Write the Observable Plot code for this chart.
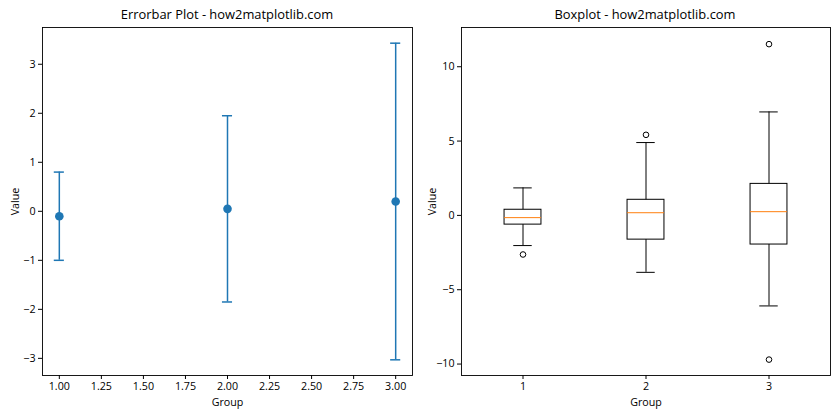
<!DOCTYPE html>
<html><head><meta charset="utf-8">
<script src="https://cdn.jsdelivr.net/npm/d3@7"></script>
<script src="https://cdn.jsdelivr.net/npm/@observablehq/plot@0.6"></script>
<style>
body{margin:0;background:#fff;font-family:"Open Sans",sans-serif;}
#wrap{position:relative;width:840px;height:420px;overflow:hidden;}
.panel{position:absolute;top:0;width:420px;height:420px;}
.title{position:absolute;top:7px;font-size:12.9px;line-height:15px;text-align:center;color:#000;white-space:nowrap;z-index:2;}
</style></head><body><div id="wrap"></div>
<script>
// ---- Errorbar data ----
const groups = [1, 2, 3];
const means = [-0.10, 0.05, 0.20];
const errors = [0.90, 1.90, 3.23];
const errXTicks = [1.00, 1.25, 1.50, 1.75, 2.00, 2.25, 2.50, 2.75, 3.00];
const errYTicks = [-3, -2, -1, 0, 1, 2, 3];

// ---- Boxplot data ----
const boxWhiskerLow = [-2.03, -3.83, -6.09];
const boxQ1 = [-0.62, -1.63, -1.96];
const boxMedian = [-0.15, 0.18, 0.25];
const boxQ3 = [0.38, 1.05, 2.12];
const boxWhiskerHigh = [1.85, 4.90, 6.96];
const outlierGroups = [1, 2, 3, 3];
const outlierValues = [-2.63, 5.42, 11.52, -9.70];
const boxXTicks = [1, 2, 3];
const boxYTicks = [-10, -5, 0, 5, 10];

const errData = groups.map((g, i) => ({g, m: means[i], e: errors[i]}));
const boxData = groups.map((g, i) => ({g, lo: boxWhiskerLow[i], q1: boxQ1[i], med: boxMedian[i], q3: boxQ3[i], hi: boxWhiskerHigh[i]}));
const outliers = outlierGroups.map((g, i) => ({g, v: outlierValues[i]}));

const blue = "#1f77b4";
const style = {fontFamily: "'Open Sans', sans-serif", fontSize: "10.7px", color: "#000", background: "transparent"};
const wrap = document.getElementById("wrap");

function panel(left, titleText, titleCenter, plot) {
  const p = document.createElement("div");
  p.className = "panel";
  p.style.left = left + "px";
  p.appendChild(plot);
  const t = document.createElement("div");
  t.className = "title";
  t.textContent = titleText;
  t.style.left = (titleCenter - 200) + "px";
  t.style.width = "400px";
  p.appendChild(t);
  wrap.appendChild(p);
}

// Left: errorbar plot
const capHalf = 0.03;
const left = Plot.plot({
  width: 420, height: 420,
  marginLeft: 42, marginRight: 8, marginTop: 27, marginBottom: 45,
  style,
  x: {domain: [0.9, 3.1]},
  y: {domain: [-3.35, 3.75]},
  marks: [
    Plot.frame({stroke: "#000", strokeWidth: 0.9}),
    Plot.axisX({ticks: errXTicks, tickFormat: d3.format(".2f"), tickSize: 4, tickPadding: 3, label: "Group", labelAnchor: "center", labelOffset: 30, labelArrow: "none"}),
    Plot.axisY({ticks: errYTicks, tickFormat: d3.format("d"), tickSize: 4, tickPadding: 3, label: "Value", labelAnchor: "center", labelOffset: 31, labelArrow: "none"}),
    Plot.ruleX(errData, {x: "g", y1: d => d.m - d.e, y2: d => d.m + d.e, stroke: blue, strokeWidth: 1.5}),
    Plot.ruleY(errData, {y: d => d.m - d.e, x1: d => d.g - capHalf, x2: d => d.g + capHalf, stroke: blue, strokeWidth: 1.5}),
    Plot.ruleY(errData, {y: d => d.m + d.e, x1: d => d.g - capHalf, x2: d => d.g + capHalf, stroke: blue, strokeWidth: 1.5}),
    Plot.dot(errData, {x: "g", y: "m", r: 4.3, fill: blue, stroke: "none"})
  ]
});
panel(0, "Errorbar Plot - how2matplotlib.com", 227, left);

// Right: boxplot
const boxHalf = 0.15, whiskHalf = 0.075;
const right = Plot.plot({
  width: 420, height: 420,
  marginLeft: 41, marginRight: 10, marginTop: 27, marginBottom: 45,
  style,
  x: {domain: [0.5, 3.5]},
  y: {domain: [-10.77, 12.64]},
  marks: [
    Plot.frame({stroke: "#000", strokeWidth: 0.9}),
    Plot.axisX({ticks: boxXTicks, tickFormat: d3.format("d"), tickSize: 4, tickPadding: 3, label: "Group", labelAnchor: "center", labelOffset: 30, labelArrow: "none"}),
    Plot.axisY({ticks: boxYTicks, tickFormat: d3.format("d"), tickSize: 4, tickPadding: 3, label: "Value", labelAnchor: "center", labelOffset: 33, labelArrow: "none"}),
    Plot.ruleX(boxData, {x: "g", y1: "lo", y2: "q1", stroke: "#000", strokeWidth: 1}),
    Plot.ruleX(boxData, {x: "g", y1: "q3", y2: "hi", stroke: "#000", strokeWidth: 1}),
    Plot.ruleY(boxData, {y: "lo", x1: d => d.g - whiskHalf, x2: d => d.g + whiskHalf, stroke: "#000", strokeWidth: 1}),
    Plot.ruleY(boxData, {y: "hi", x1: d => d.g - whiskHalf, x2: d => d.g + whiskHalf, stroke: "#000", strokeWidth: 1}),
    Plot.rect(boxData, {x1: d => d.g - boxHalf, x2: d => d.g + boxHalf, y1: "q1", y2: "q3", fill: "none", stroke: "#000", strokeWidth: 1}),
    Plot.ruleY(boxData, {y: "med", x1: d => d.g - boxHalf, x2: d => d.g + boxHalf, stroke: "#ff7f0e", strokeWidth: 1}),
    Plot.dot(outliers, {x: "g", y: "v", r: 2.8, fill: "none", stroke: "#000", strokeWidth: 1})
  ]
});
panel(420, "Boxplot - how2matplotlib.com", 225, right);
</script>
</body></html>
